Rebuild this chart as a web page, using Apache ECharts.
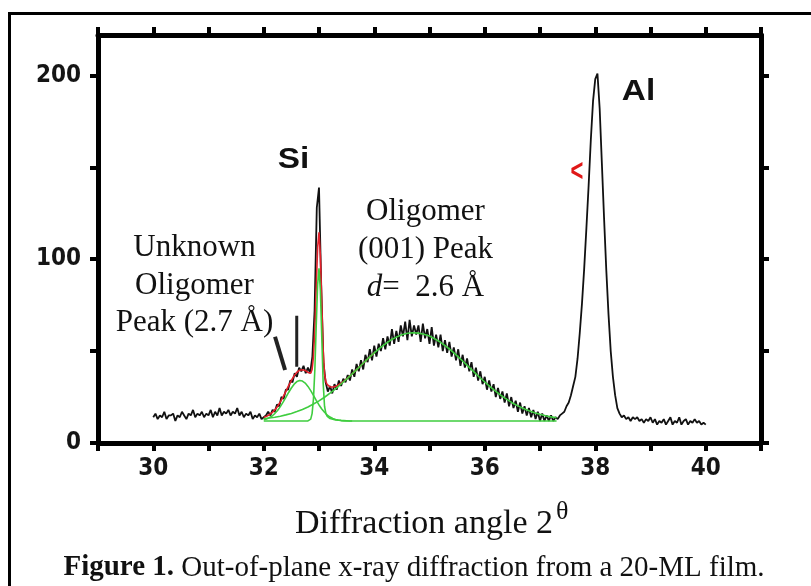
<!DOCTYPE html>
<html><head><meta charset="utf-8">
<script src="https://cdn.jsdelivr.net/npm/echarts@6/dist/echarts.min.js"></script>
<style>html,body{margin:0;padding:0;background:#fff}#c{width:811px;height:586px}</style>
</head><body><div id="c"></div>
<script>
// ---- measured trace: diffraction angle 2θ from 30.00 in 0.04 steps ----
const angleStart = 30.0;
const angleStep = 0.04;
const counts = [
 14,16,13,15,14,17,13,15,15,16,
 12,15,14,17,15,13,16,15,18,14,
 16,15,17,14,16,15,18,14,17,15,
 19,15,17,16,18,15,17,16,19,15,
 17,14,16,15,17,13,15,14,16,13,
 14,15,17,15,18,17,21,20,25,24,
 29,29,34,33,38,36,41,39,42,38,
 41,38,47,72,128,139,86,44,33,28,
 31,27,32,29,34,31,35,33,37,34,
 40,36,43,39,45,40,48,44,51,45,
 53,47,54,50,57,51,58,53,62,54,
 61,55,64,58,66,56,67,58,64,59,
 64,55,65,57,62,54,63,53,59,52,
 59,50,56,49,55,47,52,45,51,42,
 48,41,46,39,44,36,41,34,39,32,
 36,29,34,28,32,25,30,24,28,22,
 27,20,25,19,23,17,22,16,20,15,
 19,14,18,13,17,12,16,12,15,12,
 15,12,14,13,15,16,17,20,22,26,
 31,36,46,60,76,95,117,140,165,186,
 198,201,182,152,122,94,70,50,36,26,
 19,16,14,15,13,14,12,14,13,14,
 12,13,11,13,12,14,11,13,10,12,
 11,13,10,12,14,10,12,11,14,10,
 12,13,10,12,11,13,11,12,10,11,
 10
];

// ---- total fit (red) ----
const fitAngles = [32.0,32.05,32.1,32.15,32.2,32.25,32.3,32.35,32.4,32.45,32.5,32.55,32.6,32.65,32.7,32.75,32.8,32.85,
 32.875,32.9,32.925,32.95,32.975,33.0,33.025,33.05,33.075,33.1,33.125,33.15,
 33.2,33.25,33.3,33.35,33.4,33.45,33.5,33.6,33.7,33.8,33.9,34.0];
const fitCounts = [13.9,14.5,15.4,16.5,18.0,20.0,22.4,25.1,28.1,31.2,34.0,36.6,38.5,39.6,39.9,39.5,38.4,37.9,
 40.0,47.1,62.2,85.2,106.3,114.6,102,76.4,51,37.6,33.3,31.7,
 30.5,30.5,30.8,31.6,32.6,33.7,34.9,37.6,40.5,43.4,46.3,49.0];

// ---- fit components (green) ----
const unknownStart = 32.0, unknownStep = 0.05;
const unknownCounts = [12.7,13.1,13.8,14.7,16.0,17.7,19.8,22.2,24.8,27.5,29.9,32.0,33.4,34.0,33.7,32.6,30.8,28.5,25.9,23.2,20.7,18.5,16.7,15.2,14.1,13.4,12.8,12.5,12.3,12.2,12.1,12.0,12.0];

const siAngles = [32.0,32.8,32.85,32.875,32.9,32.925,32.95,32.975,33.0,33.025,33.05,33.075,33.1,33.125,33.15,33.2,33.3,33.4,33.5,37.3];
const siCounts = [12,12,13,16,24,40,64,86,95,83,58,33,20,16,14.5,13.3,12.5,12.2,12,12];

const oligomerStart = 32.0, oligomerStep = 0.1;
const oligomerCounts = [13.2,13.6,14.0,14.6,15.3,16.1,17.1,18.2,19.6,21.2,
 22.9,24.9,27.1,29.5,32.1,34.8,37.6,40.5,43.4,46.3,
 49.0,51.6,53.9,56.0,57.6,58.9,59.7,60.0,59.8,59.2,
 58.2,56.6,54.8,52.6,50.1,47.4,44.6,41.7,38.8,35.9,
 33.2,30.5,28.1,25.8,23.7,21.8,20.2,18.8,17.5,16.5,
 15.6,14.8,14.2,13.7];

// ---- pointer lines (data units) ----
const pointerSlantAngles = [32.204, 32.386];
const pointerSlantCounts = [57.8, 39.7];
const pointerStemAngles = [32.597, 32.597];
const pointerStemCounts = [69.3, 41.5];

// ---- axes ----
const xTickLabels = [30,32,34,36,38,40];
const yTickValues = [0,50,100,150,200];
const yTickLabels = [0,100,200];

function pairs(xs, ys){ return xs.map((x,i)=>[x, ys[i]]); }
function stepPairs(start, step, ys){ return ys.map((y,i)=>[+(start + i*step).toFixed(3), y]); }

const chart = echarts.init(document.getElementById('c'), null, {renderer:'canvas'});

const axisLineStyle = {color:'#000', width:5};
const tickStyle = {color:'#000', width:4};
const labelFont = {fontFamily:'"Liberation Sans Narrow", "DejaVu Sans Condensed", "Liberation Sans", Arial, sans-serif', fontWeight:'bold', fontSize:24, color:'#151515'};

const serif = '"Liberation Serif", "Times New Roman", serif';
const sans = '"Liberation Sans", Arial, sans-serif';

function txt(x, y, text, opts){
  const o = Object.assign({}, opts||{});
  const el = {type:'text', x:x, y:y, silent:true, z:100,
    style: Object.assign({text:text, x:0, y:0, fill:'#111', align:'center', verticalAlign:'middle',
      textAlign:'center', textVerticalAlign:'middle', fontFamily:serif, fontSize:31}, o.style||{})};
  if (o.scaleX) el.scaleX = o.scaleX;
  if (o.scaleY) el.scaleY = o.scaleY;
  return el;
}

const option = {
  animation:false,
  backgroundColor:'#fff',
  grid:{left:98, right:50, top:35, bottom:143, containLabel:false},
  xAxis:[
    {type:'value', min:29, max:41, interval:1, position:'bottom',
     axisLine:{show:true, onZero:false, lineStyle:axisLineStyle},
     axisTick:{show:true, inside:false, length:8, lineStyle:tickStyle},
     axisLabel:Object.assign({show:true, customValues:xTickLabels, margin:14}, labelFont),
     splitLine:{show:false}},
    {type:'value', min:29, max:41, interval:1, position:'top',
     axisLine:{show:true, onZero:false, lineStyle:axisLineStyle},
     axisTick:{show:true, inside:false, length:8, lineStyle:tickStyle},
     axisLabel:{show:false}, splitLine:{show:false}}
  ],
  yAxis:[
    {type:'value', min:0, max:222, position:'left',
     axisLine:{show:true, onZero:false, lineStyle:axisLineStyle},
     axisTick:{show:true, inside:false, length:8, customValues:yTickValues, lineStyle:tickStyle},
     axisLabel:Object.assign({show:true, customValues:yTickLabels, margin:17}, labelFont),
     splitLine:{show:false}},
    {type:'value', min:0, max:222, position:'right',
     axisLine:{show:true, onZero:false, lineStyle:axisLineStyle},
     axisTick:{show:true, inside:false, length:8, customValues:yTickValues, lineStyle:tickStyle},
     axisLabel:{show:false}, splitLine:{show:false}}
  ],
  series:[
    {name:'data', type:'line', showSymbol:false, symbol:'none', z:2,
     data:stepPairs(angleStart, angleStep, counts),
     lineStyle:{color:'#111', width:1.8}},
    {name:'fit', type:'line', showSymbol:false, symbol:'none', z:3,
     data:pairs(fitAngles, fitCounts), smooth:false,
     lineStyle:{color:'#e3202a', width:1.6}},
    {name:'unknown', type:'line', showSymbol:false, symbol:'none', z:4,
     data:stepPairs(unknownStart, unknownStep, unknownCounts),
     lineStyle:{color:'#3fcd3f', width:1.6}},
    {name:'si', type:'line', showSymbol:false, symbol:'none', z:4,
     data:pairs(siAngles, siCounts),
     lineStyle:{color:'#3fcd3f', width:1.6}},
    {name:'oligomer', type:'line', showSymbol:false, symbol:'none', z:4,
     data:stepPairs(oligomerStart, oligomerStep, oligomerCounts),
     lineStyle:{color:'#3fcd3f', width:1.6}},
    {name:'ptr1', type:'line', showSymbol:false, symbol:'none', z:5,
     data:pairs(pointerSlantAngles, pointerSlantCounts),
     lineStyle:{color:'#222', width:4}},
    {name:'ptr2', type:'line', showSymbol:false, symbol:'none', z:5,
     data:pairs(pointerStemAngles, pointerStemCounts),
     lineStyle:{color:'#222', width:3}}
  ],
  graphic:[
    {type:'rect', silent:true, shape:{x:9.5, y:13.5, width:900, height:700},
     style:{fill:'none', stroke:'#000', lineWidth:3}},
    txt(293.5, 160, 'Si', {style:{fontFamily:sans, fontWeight:'bold', fontSize:29}, scaleX:1.15}),
    txt(638.5, 92, 'Al', {style:{fontFamily:sans, fontWeight:'bold', fontSize:29}, scaleX:1.15}),
    txt(577, 173, '<', {style:{fontFamily:sans, fontWeight:'bold', fontSize:22, fill:'#e01818'}, scaleY:1.4}),
    txt(194.5, 248, 'Unknown'),
    txt(194.5, 286, 'Oligomer'),
    txt(194.5, 323, 'Peak (2.7 Å)'),
    txt(425.5, 212, 'Oligomer'),
    txt(425.5, 250, '(001) Peak'),
    {type:'text', x:425.5, y:288, silent:true, z:100,
     style:{text:'{i|d}{n|=  2.6 Å}', x:0, y:0, fill:'#111', align:'center', verticalAlign:'middle',
       textAlign:'center', textVerticalAlign:'middle', fontFamily:serif, fontSize:31,
       rich:{i:{fontFamily:serif, fontStyle:'italic', fontSize:31, fill:'#111'},
             n:{fontFamily:serif, fontSize:31, fill:'#111'}}}},
    {type:'text', x:553, y:524, silent:true, z:100,
     style:{text:'Diffraction angle 2', x:0, y:0, fill:'#111', align:'right', verticalAlign:'middle',
       textAlign:'right', textVerticalAlign:'middle', fontFamily:serif, fontSize:34}},
    {type:'text', x:556, y:512, silent:true, z:100,
     style:{text:'θ', x:0, y:0, fill:'#111', align:'left', verticalAlign:'middle',
       textAlign:'left', textVerticalAlign:'middle', fontFamily:serif, fontSize:26}},
    {type:'text', x:414, y:568, silent:true, z:100,
     style:{text:'{b|Figure 1.}{r| Out-of-plane x-ray diffraction from a 20-ML film.}', x:0, y:0, fill:'#111',
       align:'center', verticalAlign:'middle', textAlign:'center', textVerticalAlign:'middle',
       fontFamily:serif, fontSize:29,
       rich:{b:{fontFamily:serif, fontWeight:'bold', fontSize:29, fill:'#111'},
             r:{fontFamily:serif, fontSize:29, fill:'#111'}}}}
  ]
};
chart.setOption(option);
</script>
</body></html>
